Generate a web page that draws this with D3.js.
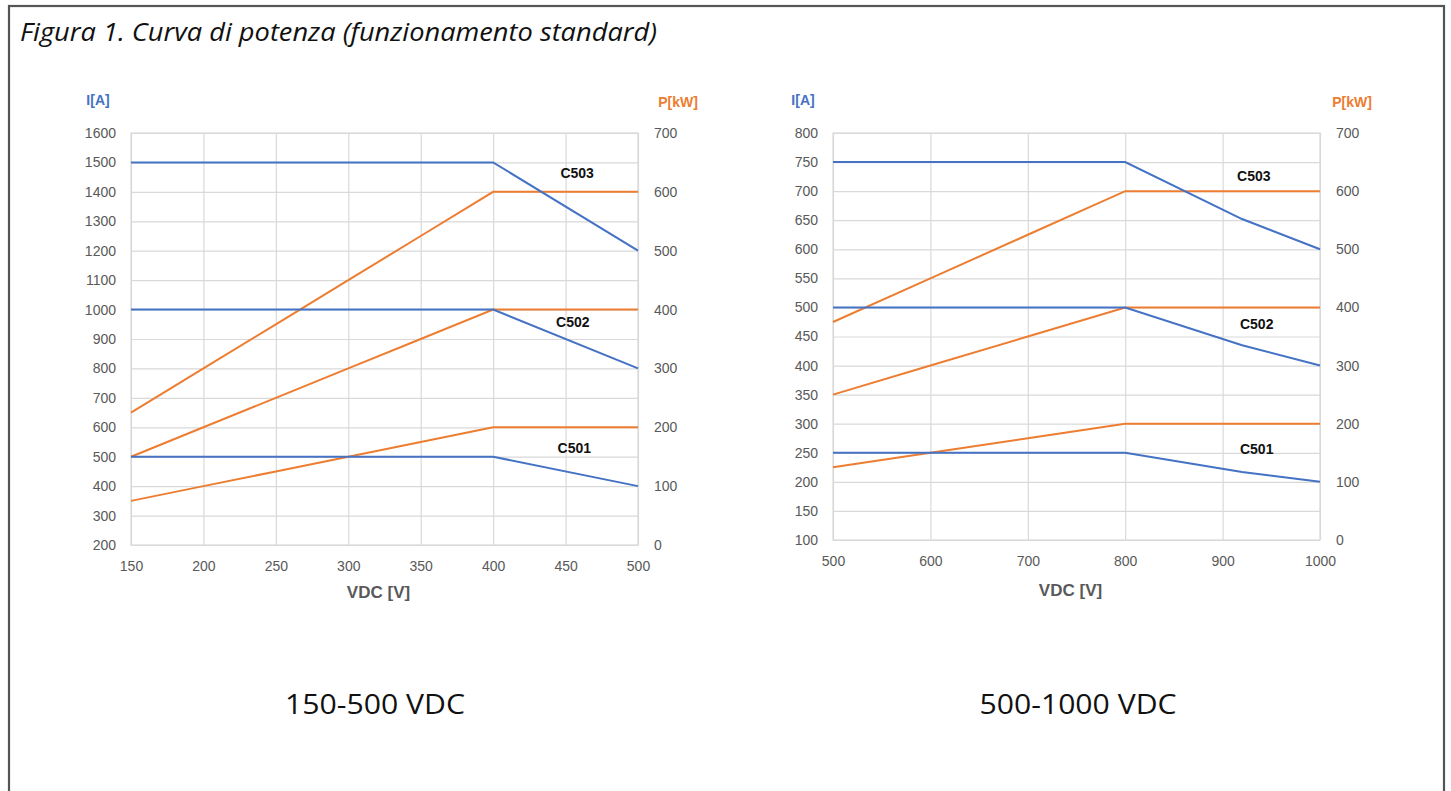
<!DOCTYPE html>
<html><head><meta charset="utf-8">
<script src="https://cdn.jsdelivr.net/npm/d3@7"></script>
<style>
html,body{margin:0;padding:0;background:#fff;}
svg{display:block;}
</style></head>
<body>
<svg id="c" width="1451" height="791"></svg>
<script>
// ---- Data ----
const titleText = "Figura 1. Curva di potenza (funzionamento standard)";
// Chart A: 150-500 VDC
const aXTicks = [150,200,250,300,350,400,450,500];
const aITicks = [200,300,400,500,600,700,800,900,1000,1100,1200,1300,1400,1500,1600];
const aPTicks = [0,100,200,300,400,500,600,700];
const aC503_I = [[150,1500],[400,1500],[500,1200]];
const aC502_I = [[150,1000],[400,1000],[500,800]];
const aC501_I = [[150,500],[400,500],[500,400]];
const aC503_P = [[150,225],[200,300],[250,375],[300,450],[350,525],[400,600],[500,600]];
const aC502_P = [[150,150],[200,200],[250,250],[300,300],[350,350],[400,400],[500,400]];
const aC501_P = [[150,75],[200,100],[250,125],[300,150],[350,175],[400,200],[500,200]];
const aLabels = [["C503",458,1461],["C502",455,954],["C501",456,526]];
// Chart B: 500-1000 VDC
const bXTicks = [500,600,700,800,900,1000];
const bITicks = [100,150,200,250,300,350,400,450,500,550,600,650,700,750,800];
const bPTicks = [0,100,200,300,400,500,600,700];
const bC503_I = [[500,750],[800,750],[920,652],[1000,600]];
const bC502_I = [[500,500],[800,500],[920,435],[1000,400]];
const bC501_I = [[500,250],[800,250],[920,217],[1000,200]];
const bC503_P = [[500,375],[600,450],[700,525],[800,600],[1000,600]];
const bC502_P = [[500,250],[600,300],[700,350],[800,400],[1000,400]];
const bC501_P = [[500,125],[600,150],[700,175],[800,200],[1000,200]];
const bLabels = [["C503",932,724],["C502",935,470],["C501",935,255]];
const captions = ["150-500 VDC","500-1000 VDC"];

const BLUE = "#4472C4", ORANGE = "#ED7D31", GRID = "#d9d9d9", TXT = "#595959";
const svg = d3.select("#c");
const fmt = d3.format("d");

// outer frame
svg.append("rect").attr("x",9).attr("y",6).attr("width",1435).attr("height",800)
  .attr("fill","none").attr("stroke","#555").attr("stroke-width",2.2);

svg.append("text").attr("x",20).attr("y",41).text(titleText)
  .attr("font-family","Open Sans").attr("font-style","italic").attr("font-size",25)
  .attr("textLength",637).attr("lengthAdjust","spacingAndGlyphs").attr("fill","#111");

function chart(cfg){
  const x = d3.scaleLinear().domain(cfg.xd).range([cfg.x0,cfg.x1]);
  const yI = d3.scaleLinear().domain(cfg.yId).range([cfg.y1,cfg.y0]);
  const yP = d3.scaleLinear().domain([0,700]).range([cfg.y1,cfg.y0]);
  const g = svg.append("g");
  // grid
  g.append("g").attr("transform",`translate(0,${cfg.y1})`)
    .call(d3.axisBottom(x).tickValues(cfg.xt).tickSize(-(cfg.y1-cfg.y0)).tickFormat(""))
    .call(s=>{s.select(".domain").remove(); s.selectAll("line").attr("stroke",GRID).attr("stroke-width",1.2);});
  g.append("g").attr("transform",`translate(${cfg.x0},0)`)
    .call(d3.axisLeft(yI).tickValues(cfg.it).tickSize(-(cfg.x1-cfg.x0)).tickFormat(""))
    .call(s=>{s.select(".domain").remove(); s.selectAll("line").attr("stroke",GRID).attr("stroke-width",1.2);});
  g.append("rect").attr("x",cfg.x0).attr("y",cfg.y0).attr("width",cfg.x1-cfg.x0).attr("height",cfg.y1-cfg.y0)
    .attr("fill","none").attr("stroke",GRID).attr("stroke-width",1.2);
  // tick labels
  const styleT = s=>{s.select(".domain").remove(); s.selectAll("line").remove();
    s.selectAll("text").attr("font-family","Liberation Sans").attr("font-size",14).attr("fill",TXT);};
  g.append("g").attr("transform",`translate(${cfg.x0-8},0)`)
    .call(d3.axisLeft(yI).tickValues(cfg.it).tickFormat(fmt).tickSize(0).tickPadding(7)).call(styleT);
  g.append("g").attr("transform",`translate(${cfg.x1+9},0)`)
    .call(d3.axisRight(yP).tickValues(cfg.pt).tickFormat(fmt).tickSize(0).tickPadding(7)).call(styleT);
  g.append("g").attr("transform",`translate(0,${cfg.y1+cfg.xlOff})`)
    .call(d3.axisBottom(x).tickValues(cfg.xt).tickFormat(fmt).tickSize(0).tickPadding(4)).call(styleT);
  // axis titles
  g.append("text").attr("x",cfg.iax).attr("y",105).attr("text-anchor","middle").text("I[A]")
    .attr("font-family","Liberation Sans").attr("font-weight","bold").attr("font-size",14).attr("fill",BLUE);
  g.append("text").attr("x",cfg.pax).attr("y",107).attr("text-anchor","middle").text("P[kW]")
    .attr("font-family","Liberation Sans").attr("font-weight","bold").attr("font-size",14).attr("fill",ORANGE);
  g.append("text").attr("x",(cfg.x0+cfg.x1)/2 - 6).attr("y",cfg.vdcY).attr("text-anchor","middle").text("VDC [V]")
    .attr("font-family","Liberation Sans").attr("font-weight","bold").attr("font-size",17).attr("fill",TXT);
  // lines
  const lI = d3.line().x(d=>x(d[0])).y(d=>yI(d[1]));
  const lP = d3.line().x(d=>x(d[0])).y(d=>yP(d[1]));
  cfg.pSeries.forEach(s=>g.append("path").attr("d",lP(s)).attr("fill","none").attr("stroke",ORANGE).attr("stroke-width",2));
  cfg.iSeries.forEach(s=>g.append("path").attr("d",lI(s)).attr("fill","none").attr("stroke",BLUE).attr("stroke-width",2));
  cfg.labels.forEach(l=>g.append("text").attr("x",x(l[1])).attr("y",yI(l[2])).attr("text-anchor","middle")
    .attr("dominant-baseline","middle").text(l[0])
    .attr("font-family","Liberation Sans").attr("font-weight","bold").attr("font-size",14).attr("fill","#111"));
  svg.append("text").attr("x",cfg.capx).attr("y",714).attr("text-anchor","middle").text(cfg.cap)
    .attr("font-family","Open Sans").attr("font-size",27)
    .attr("textLength",cfg.capw).attr("lengthAdjust","spacingAndGlyphs").attr("fill","#111");
}

chart({xd:[150,500],yId:[200,1600],x0:131,x1:638,y0:133,y1:545,xt:aXTicks,it:aITicks,pt:aPTicks,
  iSeries:[aC503_I,aC502_I,aC501_I],pSeries:[aC503_P,aC502_P,aC501_P],labels:aLabels,
  iax:98,pax:678,cap:captions[0],capx:375,capw:180,xlOff:12,vdcY:598});
chart({xd:[500,1000],yId:[100,800],x0:833,x1:1320,y0:133,y1:540,xt:bXTicks,it:bITicks,pt:bPTicks,
  iSeries:[bC503_I,bC502_I,bC501_I],pSeries:[bC503_P,bC502_P,bC501_P],labels:bLabels,
  iax:803,pax:1352,cap:captions[1],capx:1078,capw:197,xlOff:12,vdcY:596});
</script>
</body></html>
